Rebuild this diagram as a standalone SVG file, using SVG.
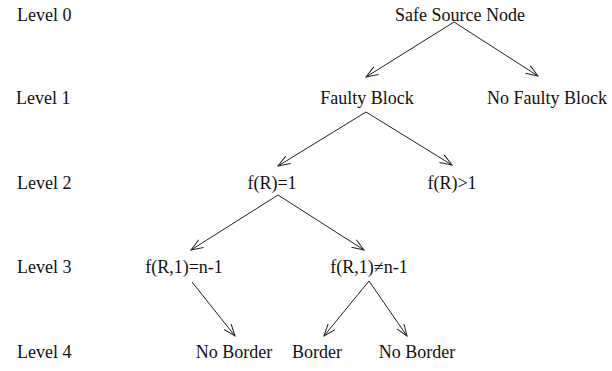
<svg xmlns="http://www.w3.org/2000/svg" width="612" height="371" viewBox="0 0 612 371">
  <style>
    text { font-family: "Liberation Serif", "Times New Roman", serif; font-size: 18px; fill: #111; }
    .node text { text-anchor: middle; }
    .edge { stroke: #222; stroke-width: 1; fill: none; marker-end: url(#arrow); }
  </style>
  <defs>
    <marker id="arrow" viewBox="0 0 13 10" refX="12" refY="5" markerWidth="13" markerHeight="10" markerUnits="userSpaceOnUse" orient="auto">
      <path d="M0,0.5 L12,5 L0,9.5" fill="none" stroke="#222" stroke-width="1"/>
    </marker>
  </defs>
  <rect width="612" height="371" fill="#fff"/>

  <!-- level labels -->
  <g id="levels">
    <text x="17" y="21">Level 0</text>
    <text x="16" y="104">Level 1</text>
    <text x="17" y="189">Level 2</text>
    <text x="17" y="273">Level 3</text>
    <text x="17" y="358">Level 4</text>
  </g>

  <g id="n-source" class="node"><text x="460" y="21">Safe Source Node</text></g>
  <g id="n-faulty" class="node"><text x="367" y="104">Faulty Block</text></g>
  <g id="n-nofaulty" class="node"><text x="547" y="104">No Faulty Block</text></g>
  <g id="n-fr1" class="node"><text x="272" y="189">f(R)=1</text></g>
  <g id="n-frgt1" class="node"><text x="452" y="189">f(R)&gt;1</text></g>
  <g id="n-eq" class="node"><text x="184" y="273">f(R,1)=n-1</text></g>
  <g id="n-neq" class="node"><text x="369" y="273">f(R,1)≠n-1</text></g>
  <g id="n-noborder1" class="node"><text x="234" y="358">No Border</text></g>
  <g id="n-border" class="node"><text x="317" y="358">Border</text></g>
  <g id="n-noborder2" class="node"><text x="417" y="358">No Border</text></g>

  <g id="connectors">
    <line class="edge" x1="454" y1="22" x2="366" y2="77"/>
    <line class="edge" x1="454" y1="22" x2="538" y2="76"/>
    <line class="edge" x1="366" y1="112" x2="278" y2="166"/>
    <line class="edge" x1="366" y1="112" x2="452" y2="165"/>
    <line class="edge" x1="278" y1="195" x2="191" y2="250"/>
    <line class="edge" x1="278" y1="195" x2="364" y2="250"/>
    <line class="edge" x1="192" y1="282" x2="235" y2="336"/>
    <line class="edge" x1="369" y1="281" x2="324" y2="336"/>
    <line class="edge" x1="369" y1="281" x2="407" y2="336"/>
  </g>
</svg>
